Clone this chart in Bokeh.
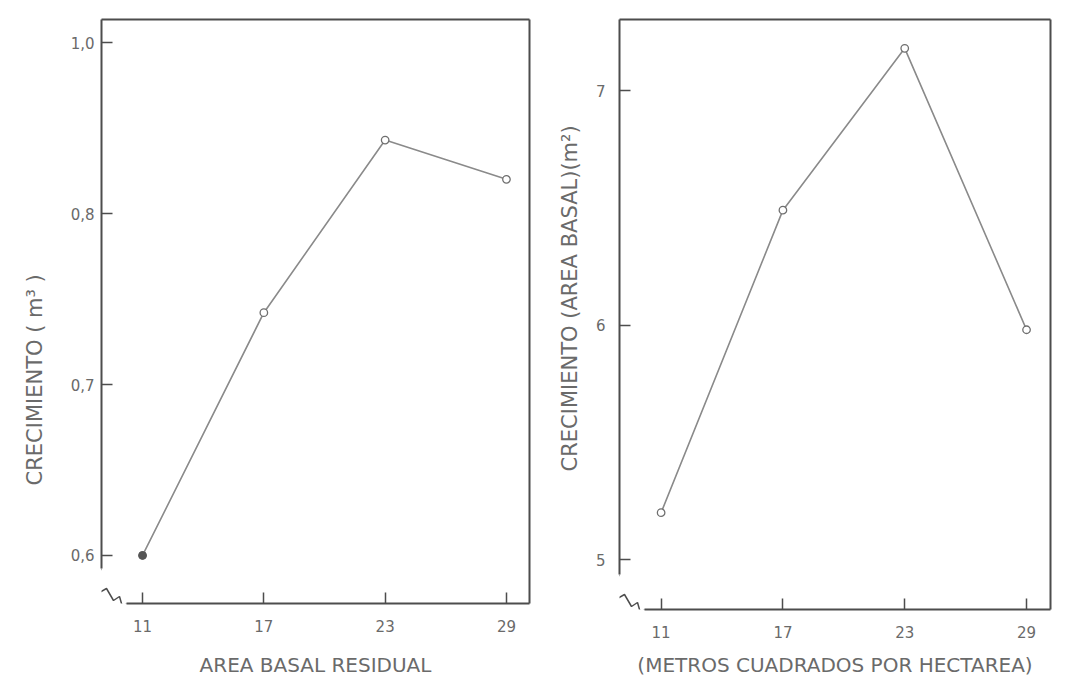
from bokeh.plotting import figure
from bokeh.layouts import row
from bokeh.models import LinearAxis, FixedTicker, Range1d, Title
from bokeh.embed import file_html
from bokeh.resources import INLINE

# ---------------- data ----------------
x_vals = [11, 17, 23, 29]
vol_growth = [0.600, 0.742, 0.843, 0.820]          # left panel (m3)
ba_growth = [5.20, 6.49, 7.18, 5.98]               # right panel (m2)
x_ticks = [11, 17, 23, 29]
x_tick_labels = ["11", "17", "23", "29"]
left_ticks = [0.6, 0.7, 0.8, 0.9]
left_tick_labels = ["0,6", "0,7", "0,8", "1,0"]
right_ticks = [5, 6, 7]
right_tick_labels = ["5", "6", "7"]
left_ylabel = "CRECIMIENTO ( m³ )"
right_ylabel = "CRECIMIENTO (AREA BASAL)(m²)"
left_xlabel = "AREA BASAL RESIDUAL"
right_xlabel = "(METROS CUADRADOS POR HECTAREA)"

FONT = "DejaVu Sans"
TEXT = "#6a6a6a"
FRAME = "#4d4d4d"
LINE = "#8a8a8a"

# axis-break zigzag, in pixel offsets from the frame's lower-left corner
break_dx = [0, -7, -2, 5, 12, 18, 22, 25]
break_dy = [35, 23, 11, 15, 3, 7, -7, 0]


def panel(xs, ys, xr, yr, yticks, ylabels, xlabel, ylabel,
          fw, fh, bl, br, bt, bb, ystand, ytitle_stand, ytitle_offset,
          xtitle_stand, filled_first):
    p = figure(x_range=Range1d(*xr), y_range=Range1d(*yr),
               frame_width=fw, frame_height=fh,
               min_border_left=bl, min_border_right=br,
               min_border_top=bt, min_border_bottom=bb,
               output_backend="svg", toolbar_location=None,
               background_fill_color="white", border_fill_color="white")
    p.outline_line_color = None
    p.xgrid.visible = False
    p.ygrid.visible = False

    ppx = fw / (xr[1] - xr[0])
    ppy = fh / (yr[1] - yr[0])

    for ax in (p.xaxis[0], p.yaxis[0]):
        ax.axis_line_color = FRAME
        ax.axis_line_width = 2
        ax.major_tick_line_color = FRAME
        ax.major_tick_line_width = 1.5
        ax.major_tick_in = 11
        ax.major_tick_out = 0
        ax.minor_tick_line_color = None
        ax.major_label_text_font = FONT
        ax.major_label_text_color = TEXT
        ax.major_label_text_font_size = "15px"
        ax.axis_label_text_font = FONT
        ax.axis_label_text_color = TEXT
        ax.axis_label_text_font_style = "normal"

    xa = p.xaxis[0]
    xa.ticker = FixedTicker(ticks=x_ticks)
    xa.major_label_overrides = dict(zip(x_ticks, x_tick_labels))
    xa.axis_label = xlabel
    xa.axis_label_text_font_size = "20px"
    xa.major_label_standoff = 16
    xa.axis_label_standoff = xtitle_stand
    xa.bounds = (xr[0] + break_dx[-1] / ppx, xr[1])

    ya = p.yaxis[0]
    ya.ticker = FixedTicker(ticks=yticks)
    ya.major_label_overrides = dict(zip(yticks, ylabels))
    ya.major_label_standoff = ystand
    ya.major_label_orientation = "horizontal"
    ya.bounds = (yr[0] + break_dy[0] / ppy, yr[1])

    # vertical axis title, shifted along the axis as in the original drawing
    p.add_layout(Title(text=ylabel, align="left", offset=ytitle_offset,
                       standoff=ytitle_stand, text_font=FONT,
                       text_font_size="21px", text_font_style="normal",
                       text_color=TEXT), "left")

    # closing frame on top and right
    for side in ("above", "right"):
        a = LinearAxis(ticker=FixedTicker(ticks=[]), axis_line_color=FRAME,
                       axis_line_width=2, major_tick_line_color=None,
                       minor_tick_line_color=None, major_label_text_font_size="0px")
        p.add_layout(a, side)

    # axis break
    bx = [xr[0] + d / ppx for d in break_dx]
    by = [yr[0] + d / ppy for d in break_dy]
    p.line(bx, by, line_color=FRAME, line_width=1.5)

    p.line(xs, ys, line_color=LINE, line_width=1.6)
    p.scatter(xs, ys, size=7.5, marker="circle", line_color="#6f6f6f",
              line_width=1.3, fill_color="white")
    if filled_first:
        p.scatter(xs[:1], ys[:1], size=7.5, marker="circle",
                  line_color="#555555", fill_color="#555555")
    return p


p1 = panel(x_vals, vol_growth, (8.97, 30.14), (0.5719, 0.9135),
           left_ticks, left_tick_labels, left_xlabel, left_ylabel,
           fw=428, fh=584, bl=101, br=15, bt=19, bb=78,
           ystand=7, ytitle_stand=41, ytitle_offset=118, xtitle_stand=18,
           filled_first=True)
p2 = panel(x_vals, ba_growth, (8.95, 30.18), (4.787, 7.303),
           right_ticks, right_tick_labels, right_xlabel, right_ylabel,
           fw=431, fh=590, bl=75, br=9, bt=17, bb=74,
           ystand=14, ytitle_stand=21, ytitle_offset=138, xtitle_stand=12,
           filled_first=False)

layout = row(p1, p2)
open("out.html", "w").write(file_html(layout, INLINE))
